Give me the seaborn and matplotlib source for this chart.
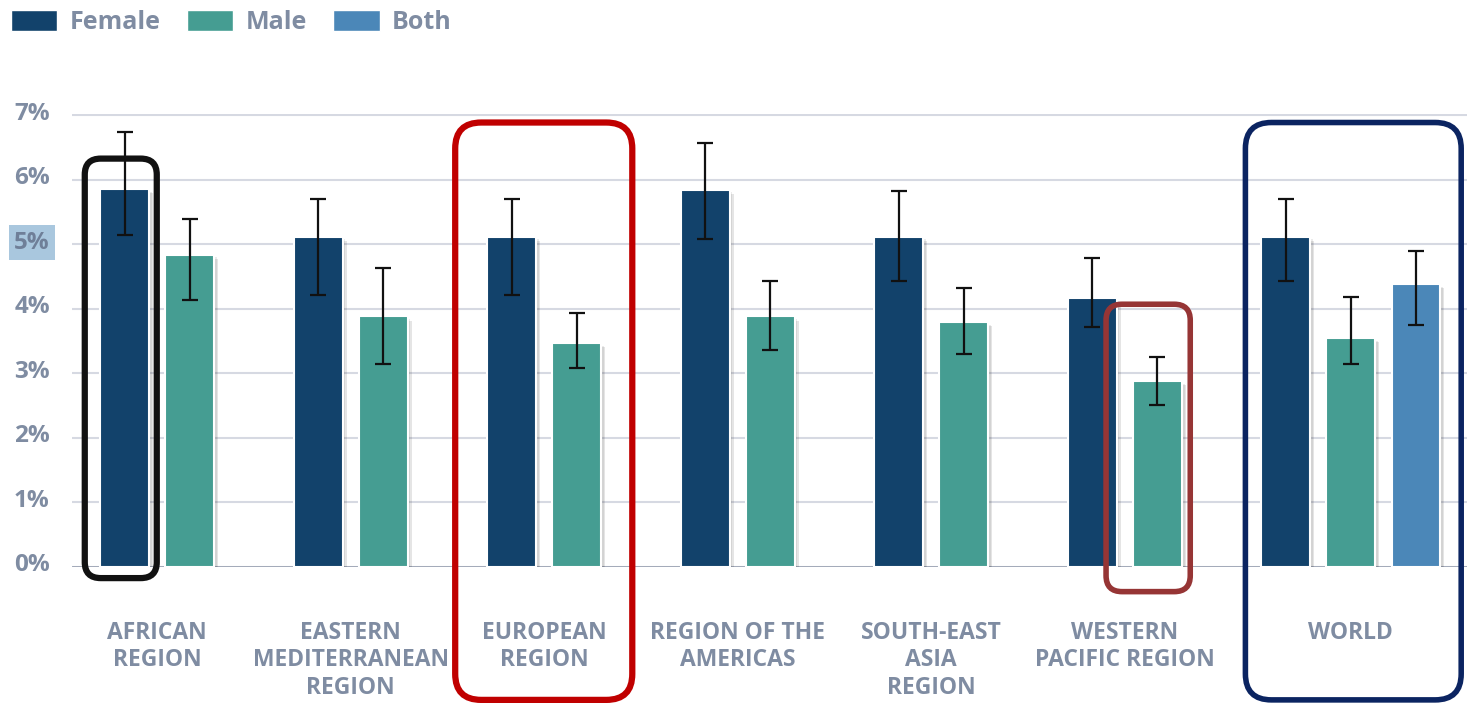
import numpy as np
import pandas as pd
import matplotlib
matplotlib.use("Agg")
import matplotlib.pyplot as plt
import matplotlib.patheffects as pe
from matplotlib.patches import FancyBboxPatch, Patch
from matplotlib.transforms import IdentityTransform, ScaledTranslation
import seaborn as sns

# ---- data (prevalence, %) ----
regions = ["AFRICAN\nREGION", "EASTERN\nMEDITERRANEAN\nREGION", "EUROPEAN\nREGION",
           "REGION OF THE\nAMERICAS", "SOUTH-EAST\nASIA\nREGION",
           "WESTERN\nPACIFIC REGION", "WORLD"]
female = [5.86, 5.12, 5.12, 5.85, 5.12, 4.16, 5.12]
female_lo = [5.14, 4.22, 4.22, 5.08, 4.43, 3.72, 4.43]
female_hi = [6.74, 5.71, 5.71, 6.57, 5.82, 4.79, 5.71]
male = [4.84, 3.88, 3.47, 3.88, 3.79, 2.88, 3.55]
male_lo = [4.13, 3.15, 3.08, 3.36, 3.30, 2.51, 3.15]
male_hi = [5.40, 4.64, 3.93, 4.43, 4.32, 3.25, 4.18]
both_regions = ["WORLD"]
both = [4.38]
both_lo = [3.75]
both_hi = [4.89]

series = ["Female", "Male", "Both"]
colors = {"Female": "#12426b", "Male": "#459d92", "Both": "#4b87b8"}
TEXT = "#7f8ca2"

# ---- layout of grouped bars ----
SLOT = 0.336        # distance between neighbouring bars inside a group
rows = []
centers = []
shift = 0.0
for i, reg in enumerate(regions):
    vals = [("Female", female[i], female_lo[i], female_hi[i]),
            ("Male", male[i], male_lo[i], male_hi[i])]
    if reg in both_regions:
        j = both_regions.index(reg)
        vals.append(("Both", both[j], both_lo[j], both_hi[j]))
    n = len(vals)
    extra = (n - 2) * SLOT / 2
    c = i + shift + extra
    shift += 2 * extra
    centers.append(c)
    for k, (s, v, lo, hi) in enumerate(vals):
        rows.append(dict(region=reg, sex=s, value=v, lo=lo, hi=hi,
                         pos=round(c + (k - (n - 1) / 2) * SLOT, 4)))
df = pd.DataFrame(rows)

# ---- figure ----
sns.set_theme(style="white")
plt.rcParams["font.family"] = ["Open Sans", "DejaVu Sans"]

W, H = 1467, 703
fig = plt.figure(figsize=(W / 100, H / 100), dpi=100)
ax = fig.add_axes([72 / W, 1 - 566.5 / H, 1 - 72 / W, (566.5 - 113.5) / H])

sns.barplot(data=df, x="pos", y="value", hue="sex", hue_order=series,
            palette=colors, native_scale=True, dodge=False, width=0.75,
            errorbar=None, saturation=1, edgecolor="white", linewidth=1.5,
            legend=False, ax=ax, zorder=3)

shadow = [pe.SimplePatchShadow(offset=(3, -3), shadow_rgbFace="#000000", alpha=0.10),
          pe.SimplePatchShadow(offset=(2, -2), shadow_rgbFace="#000000", alpha=0.08),
          pe.Normal()]
for p in ax.patches:
    p.set_path_effects(shadow)

ax.errorbar(df["pos"], df["value"],
            yerr=[df["value"] - df["lo"], df["hi"] - df["value"]],
            fmt="none", ecolor="#111111", elinewidth=1.6, capsize=5.5,
            capthick=1.6, zorder=5)

# axes styling
ax.set_ylim(0, 7.03)
ax.set_xlim(centers[0] - 0.44, centers[-1] + 0.6)
ax.set_yticks(range(0, 8))
ax.set_yticklabels([f"{v}%" for v in range(0, 8)])
ax.set_xticks(centers)
ax.set_xticklabels(regions, linespacing=1.2)
ax.set_xlabel("")
ax.set_ylabel("")
for s in ax.spines.values():
    s.set_visible(False)
ax.yaxis.grid(True, color="#d6d9e2", linewidth=1.5, zorder=0)
ax.set_axisbelow(True)
ax.axhline(0, color="#9ea6b6", linewidth=2, zorder=2)
ax.tick_params(axis="y", length=0, pad=16, labelsize=17.5, labelcolor=TEXT)
ax.tick_params(axis="x", length=0, pad=39, labelsize=16.5, labelcolor=TEXT)
for lab in ax.get_yticklabels() + ax.get_xticklabels():
    lab.set_fontweight("bold")
# y labels sit slightly above their gridlines
lift = ScaledTranslation(0, 4.5 / 100, fig.dpi_scale_trans)
for lab in ax.get_yticklabels():
    lab.set_transform(lab.get_transform() + lift)
hl = ax.get_yticklabels()[5]
hl.set_bbox(dict(facecolor="#a9c7de", edgecolor="none", pad=4))
hl.set_color("#6f7f98")

# legend
handles = [Patch(facecolor=colors[s], edgecolor="white") for s in series]
leg = ax.legend(handles, series, loc="upper left", bbox_to_anchor=(11 / W, 1 - 10 / H),
                bbox_transform=fig.transFigure, ncol=3, frameon=False,
                handlelength=1.85, handleheight=0.9,
                handletextpad=0.5, columnspacing=1.05, borderaxespad=0, borderpad=0,
                labelcolor=TEXT, prop={"weight": "bold", "size": 18})

# highlight boxes, given in data units and drawn in pixel space
fig.canvas.draw()


def highlight(x0, x1, y0, y1, color, lw, radius):
    (px0, py0) = ax.transData.transform((x0, y0))
    (px1, py1) = ax.transData.transform((x1, y1))
    box = FancyBboxPatch((px0, py0), px1 - px0, py1 - py0,
                         boxstyle=f"round,pad=0,rounding_size={radius}",
                         facecolor="none", edgecolor=color, linewidth=lw,
                         transform=IdentityTransform(), zorder=10)
    fig.add_artist(box)


pos = df.set_index(["region", "sex"])["pos"]
bw = 0.75 * SLOT / 2
af = pos[(regions[0], "Female")]
highlight(af - bw - 0.08, af + bw + 0.04, -0.18, 6.33, "#111111", 4.5, 16)
highlight(centers[2] - 0.46, centers[2] + 0.455, -2.07, 6.89, "#c00000", 4.5, 26)
wp = pos[(regions[5], "Male")]
highlight(wp - 0.265, wp + 0.17, -0.39, 4.07, "#963535", 4.0, 16)
highlight(centers[6] - 0.545, centers[6] + 0.57, -2.07, 6.89, "#0b2461", 4.0, 26)

fig.savefig("out.png", dpi=100)
